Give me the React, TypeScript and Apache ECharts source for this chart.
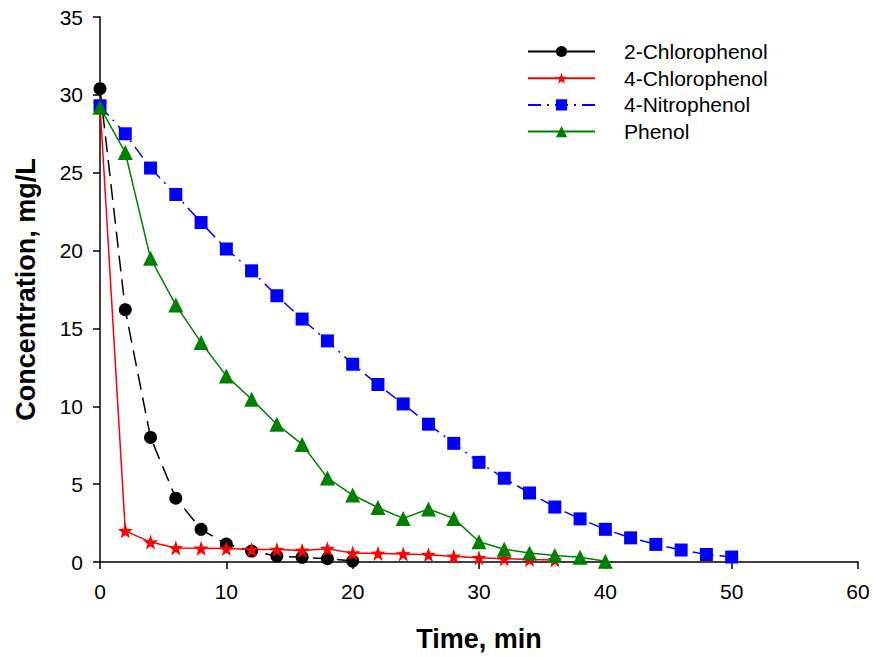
import React, { useEffect, useRef } from "react";
import * as echarts from "echarts";

const times = [0, 2, 4, 6, 8, 10, 12, 14, 16, 18, 20, 22, 24, 26, 28, 30, 32, 34, 36, 38, 40, 42, 44, 46, 48, 50];

const chloro2 = [30.4, 16.2, 8.0, 4.1, 2.1, 1.15, 0.7, 0.38, 0.3, 0.21, 0.06];
const chloro4 = [29.4, 2.0, 1.28, 0.9, 0.88, 0.86, 0.8, 0.8, 0.74, 0.85, 0.57, 0.55, 0.52, 0.47, 0.36, 0.27, 0.21, 0.16, 0.13];
const nitro4 = [29.3, 27.5, 25.3, 23.6, 21.8, 20.1, 18.7, 17.1, 15.6, 14.2, 12.7, 11.4, 10.15, 8.85, 7.62, 6.4, 5.38, 4.43, 3.53, 2.77, 2.1, 1.55, 1.13, 0.77, 0.48, 0.32];
const phenol = [29.2, 26.3, 19.5, 16.5, 14.1, 11.95, 10.45, 8.85, 7.55, 5.4, 4.3, 3.5, 2.8, 3.4, 2.8, 1.3, 0.82, 0.58, 0.42, 0.3, 0.05];

const seriesNames = ["2-Chlorophenol", "4-Chlorophenol", "4-Nitrophenol", "Phenol"];
const xTicks = { min: 0, max: 60, interval: 10 };
const yTicks = { min: 0, max: 35, interval: 5 };

const STAR = "path://M0,-100 L23.5,-32.4 L95.1,-30.9 L38,12.4 L58.8,80.9 L0,40 L-58.8,80.9 L-38,12.4 L-95.1,-30.9 L-23.5,-32.4 Z";

function pairs(vals: number[]) {
  return vals.map((v, i) => [times[i], v]);
}

export default function App() {
  const ref = useRef<HTMLDivElement>(null);
  useEffect(() => {
    if (!ref.current) return;
    const chart = echarts.init(ref.current, null, { renderer: "svg" });
    const font = "'Liberation Sans', Arial, sans-serif";
    const axisCommon = {
      axisLine: { show: true, onZero: false, lineStyle: { color: "#000", width: 1.5 } },
      axisTick: { show: true, inside: false, length: 7, lineStyle: { color: "#000", width: 1.5 } },
      splitLine: { show: false },
      nameLocation: "middle" as const,
      nameTextStyle: { fontFamily: font, fontWeight: "bold" as const, fontSize: 27, color: "#000" },
    };
    chart.setOption({
      animation: false,
      backgroundColor: "#fff",
      textStyle: { fontFamily: font },
      grid: { left: 100, right: 15, top: 17, bottom: 92, containLabel: false },
      legend: {
        orient: "vertical",
        left: 522,
        top: 36,
        itemWidth: 67,
        itemHeight: 14,
        itemGap: 5.7,
        textStyle: { fontFamily: font, fontSize: 21, color: "#000", padding: [0, 0, 0, 24] },
        data: [
          { name: seriesNames[0], lineStyle: { type: "solid" } },
          { name: seriesNames[1] },
          { name: seriesNames[2] },
          { name: seriesNames[3] },
        ],
      },
      xAxis: {
        type: "value",
        ...xTicks,
        ...axisCommon,
        name: "Time, min",
        nameGap: 63,
        axisLabel: { fontFamily: font, fontSize: 21, color: "#000", margin: 19 },
      },
      yAxis: {
        type: "value",
        ...yTicks,
        ...axisCommon,
        name: "Concentration, mg/L",
        nameGap: 61,
        axisLabel: { fontFamily: font, fontSize: 21, color: "#000", margin: 17 },
      },
      series: [
        {
          name: seriesNames[0],
          type: "line",
          data: pairs(chloro2),
          symbol: "circle",
          symbolSize: 13,
          color: "#000",
          lineStyle: { color: "#000", width: 1.5, type: [16, 8] },
          itemStyle: { color: "#000" },
        },
        {
          name: seriesNames[1],
          type: "line",
          data: pairs(chloro4),
          symbol: STAR,
          symbolSize: 15,
          color: "#ff0000",
          lineStyle: { color: "#ff0000", width: 1.5 },
          itemStyle: { color: "#ff0000" },
        },
        {
          name: seriesNames[2],
          type: "line",
          data: pairs(nitro4),
          symbol: "rect",
          symbolSize: 13,
          color: "#0000ff",
          lineStyle: { color: "#0000ff", width: 1.5, type: [13, 6, 2, 6] },
          itemStyle: { color: "#0000ff" },
        },
        {
          name: seriesNames[3],
          type: "line",
          data: pairs(phenol),
          symbol: "triangle",
          symbolSize: 15,
          color: "#008000",
          lineStyle: { color: "#008000", width: 1.5 },
          itemStyle: { color: "#008000" },
        },
      ],
    });
    return () => chart.dispose();
  }, []);
  return (
    <div
      ref={ref}
      style={{ position: "absolute", left: 0, top: 0, width: 873, height: 657 }}
    />
  );
}
